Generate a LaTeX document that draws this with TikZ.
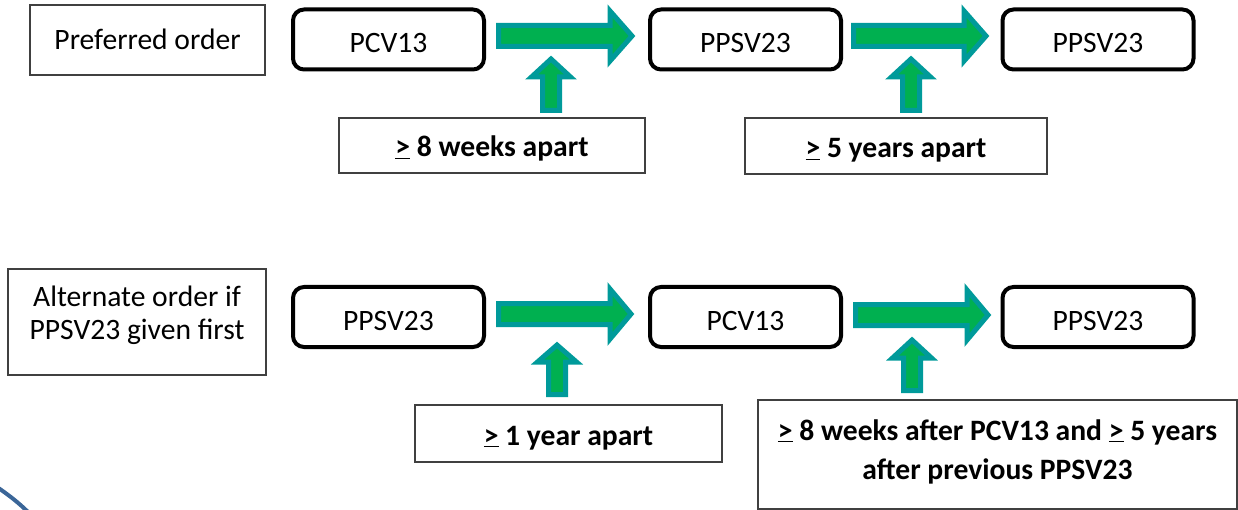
\documentclass[tikz,border=0pt]{standalone}
\usepackage{fontspec}
\setmainfont{Carlito}
\definecolor{fatgreen}{HTML}{00B050}
\definecolor{fatteal}{HTML}{009A9A}
\definecolor{thinline}{HTML}{404040}
\definecolor{arcblue}{HTML}{3B6698}
\newcommand{\gte}{\underline{>}}
\newcommand{\harrowshape}[4]{% x0, xbase, xtip, yc
  \draw[fatarrow] (#1+2.5,#4-10.5) -- (#2,#4-10.5) -- (#2,#4-25) -- (#3-5,#4)
    -- (#2,#4+25) -- (#2,#4+10.5) -- (#1+2.5,#4+10.5) -- cycle;}
\newcommand{\varrowshape}[4]{% xc, ytip, ybase, ybottom
  \draw[fatarrow] (#1-8.5,#4-2.5) -- (#1-8.5,#3) -- (#1-19.5,#3) -- (#1,#2+5)
    -- (#1+19.5,#3) -- (#1+8.5,#3) -- (#1+8.5,#4-2.5) -- cycle;}
\begin{document}
\begin{tikzpicture}[x=1pt,y=-1pt,
  every node/.style={font=\fontsize{29.6}{35}\selectfont},
  thinbox/.style={draw=thinline, line width=1.3pt, inner sep=0pt, align=center},
  vaccine/.style={draw=black, line width=4pt, rounded corners=11pt, inner sep=0pt,
    minimum width=191pt, minimum height=60pt, text height=27pt, text depth=0pt},
  fatarrow/.style={draw=fatteal, fill=fatgreen, line width=5pt, line join=miter},
  gap/.style={thinbox, font=\fontsize{29.6}{35}\selectfont\bfseries, text height=23pt, text depth=0pt},
  plaintext/.style={inner sep=0pt, align=center}
]
\useasboundingbox (0,0) rectangle (1238,510);

% blue arc
\draw[arcblue, line width=4pt] (-3,487) .. controls (7,494) and (17,501) .. (29,513);

% ---- top row ----
\node[thinbox, minimum width=235pt, minimum height=70pt, text height=20pt, text depth=0pt] (pref) at (147.5,40) {Preferred order};
\node[vaccine] (t1) at (388.5,39.5) {PCV13};
\node[vaccine] (t2) at (745.5,39.5) {PPSV23};
\node[vaccine] (t3) at (1098,39.5) {PPSV23};
\node[gap, minimum width=306pt, minimum height=55pt] (tg1) at (492,145.5) {\gte{} 8 weeks apart};
\node[gap, minimum width=302pt, minimum height=56pt] (tg2) at (896,146) {\gte{} 5 years apart};

\harrowshape{496}{610}{637}{36}
\harrowshape{851}{964}{991}{36}
\varrowshape{551}{54}{77}{113}
\varrowshape{911}{54}{77}{113}

% ---- bottom row ----
\node[thinbox, minimum width=258pt, minimum height=106pt] (alt) at (137,322) {};
\node[plaintext, font=\fontsize{29.6}{33}\selectfont, yshift=7pt] (alttext) at (alt.center) {Alternate order if\\PPSV23 given first};
\node[vaccine] (b1) at (388.5,317) {PPSV23};
\node[vaccine] (b2) at (745.5,317) {PCV13};
\node[vaccine] (b3) at (1098,317) {PPSV23};
\node[gap, minimum width=307pt, minimum height=57pt] (bg1) at (568.5,433.5) {\gte{} 1 year apart};
\node[thinbox, minimum width=479pt, minimum height=109pt] (bg2) at (997.5,454.5) {};
\node[plaintext, font=\fontsize{29.6}{39}\selectfont\bfseries, yshift=3pt] (bg2text) at (bg2.center)
  {\gte{} 8 weeks after PCV13 and \gte{} 5 years\\after previous PPSV23};

\harrowshape{496}{610}{636}{314}
\harrowshape{853}{967}{993}{315}
\varrowshape{557}{340}{362}{397}
\varrowshape{912}{335}{358}{393}
\end{tikzpicture}
\end{document}
